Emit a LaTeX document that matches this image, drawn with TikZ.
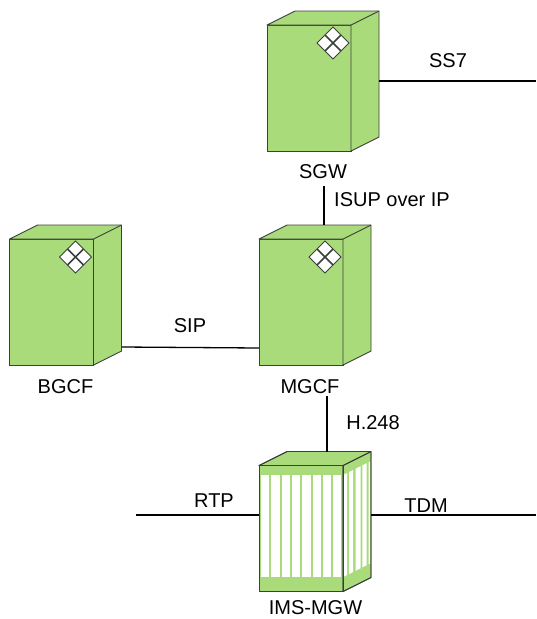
\documentclass[tikz,border=0pt]{standalone}
\usepackage{fontspec}
\setmainfont{Liberation Sans}
\usetikzlibrary{positioning}
\definecolor{srvgreen}{HTML}{AADB7B}
\definecolor{srvline}{HTML}{3A403A}
\tikzset{
	srv/.style={rectangle, draw=srvline, fill=srvgreen, line width=0.9pt, outer sep=0pt, inner sep=0pt, minimum width=84pt, minimum height=126pt},
	face/.style={draw=srvline, fill=srvgreen, line width=0.9pt, line join=round},
	faceline/.style={draw=srvline, line width=0.9pt, line join=round},
	link/.style={draw=black, line width=1.3pt},
	lbl/.style={font=\fontsize{20}{24}\selectfont, inner sep=0pt, outer sep=0pt}
}
\newcommand{\srvfaces}[2][face]{
	\path[#1] (#2.north west) -- ++(28,-14) -- ++(84,0) -- ++(0,126) -- (#2.south east) -- (#2.north east) -- cycle;
	\path[#1] (#2.north east) -- ++(28,-14);
}
\newcommand{\srvmark}[1]{
	\coordinate (#1mark) at ([xshift=-18pt,yshift=-18pt]#1.north east);
	\path[draw=srvline, fill=white, line width=0.9pt] ([xshift=-16pt]#1mark) -- ([yshift=16pt]#1mark) -- ([xshift=16pt]#1mark) -- ([yshift=-16pt]#1mark) -- cycle;
	\draw[srvline, line width=1.7pt] ([xshift=-8pt,yshift=8pt]#1mark) -- ([xshift=8pt,yshift=-8pt]#1mark);
	\draw[srvline, line width=1.7pt] ([xshift=-8pt,yshift=-8pt]#1mark) -- ([xshift=8pt,yshift=8pt]#1mark);
}
\begin{document}
\begin{tikzpicture}[x=1pt,y=-1pt]
	\useasboundingbox (0,0) rectangle (536,619);

	% Define nodes
	\node[srv] (MGCF) at (301,302) {};
	\node[srv, left=165.5pt of MGCF] (BGCF) {};
	\node[srv, above=88pt of MGCF, xshift=8pt] (SGW) {};
	\node[srv, below=100.5pt of MGCF] (MGW) {};

	\foreach \srvname in {SGW,BGCF,MGCF,MGW} {
		\srvfaces{\srvname}
	}
	\foreach \srvname in {SGW,BGCF,MGCF} {
		\srvmark{\srvname}
	}

	% Stripes of the gateway
	\foreach \i in {0,...,7} {
		\fill[white] ([xshift=2+10.3*\i pt,yshift=-9.5pt]MGW.north west) rectangle ++(8.3,102);
	}
	\foreach \a/\b in {1/4,6/10,12.7/17.7,19.3/23.7,25.5/27} {
		\fill[white] ([xshift=\a pt,yshift=-9.5pt+0.5*\a pt]MGW.north east) -- ([xshift=\b pt,yshift=-9.5pt+0.5*\b pt]MGW.north east)
			-- ++(0,102) -- ([xshift=\a pt,yshift=-111.5pt+0.5*\a pt]MGW.north east) -- cycle;
	}
	\draw[srvline, line width=0.9pt] (MGW.north west) rectangle (MGW.south east);
	\srvfaces[faceline]{MGW}

	% Labels
	\node[lbl, below=14pt of SGW, xshift=14pt] (SGWlbl) {SGW};
	\node[lbl, below=15pt of BGCF, xshift=14pt] (BGCFlbl) {BGCF};
	\node[lbl, below=15pt of MGCF, xshift=9pt] (MGCFlbl) {MGCF};
	\node[lbl, below=9pt of MGW, xshift=14.5pt] (MGWlbl) {IMS-MGW};
	\node[lbl] (ss7) at (448,61) {SS7};
	\node[lbl] (isup) at (392,200) {ISUP over IP};
	\node[lbl] (sip) at (190,326) {SIP};
	\node[lbl] (h248) at (373,423) {H.248};
	\node[lbl] (rtp) at (214,501) {RTP};
	\node[lbl] (tdm) at (426,506) {TDM};

	% Free ends and side points
	\coordinate (ss7end) at (536,81);
	\coordinate (rtpend) at (136,515);
	\coordinate (tdmend) at (536,515);
	\coordinate (SGWside) at (379,81);
	\coordinate (BGCFside) at (122,347);
	\coordinate (MGWside) at (371,515);
	\coordinate (SGWdrop) at (324,186);
	\coordinate (MGCFtop) at (324,225);
	\coordinate (MGCFdrop) at (327,396);
	\coordinate (MGWtop) at (327,452);
	\coordinate (MGCFin) at (259,348);
	\coordinate (MGWin) at (259,515);

	% Connect the nodes
	\draw[link] (SGWside) -- (ss7end);
	\draw[link] (SGWdrop) -- (MGCFtop);
	\draw[link] (BGCFside) -- (MGCFin);
	\draw[link] (MGCFdrop) -- (MGWtop);
	\draw[link] (rtpend) -- (MGWin);
	\draw[link] (MGWside) -- (tdmend);
\end{tikzpicture}
\end{document}
